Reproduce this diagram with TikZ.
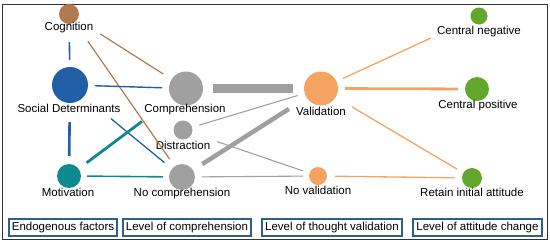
\documentclass[tikz,border=0pt]{standalone}
\usepackage{fontspec}
\setmainfont{Liberation Sans}
\begin{document}
\begin{tikzpicture}[x=1pt,y=-1pt,
  dot/.style={circle,inner sep=0pt,minimum size=#1,draw=none},
  lab/.style={inner sep=0pt,font=\fontsize{11.5}{12}\selectfont},
  catbox/.style={draw=boxblue,line width=1.1pt,inner sep=0pt,font=\fontsize{11.5}{12}\selectfont,minimum height=17pt},
  ln/.style={line cap=butt}]
\definecolor{cbrown}{RGB}{176,122,82}
\definecolor{cblue}{RGB}{33,96,168}
\definecolor{cteal}{RGB}{14,138,143}
\definecolor{cgray}{RGB}{160,160,160}
\definecolor{corange}{RGB}{244,164,96}
\definecolor{cgreen}{RGB}{98,166,44}
\definecolor{boxblue}{RGB}{46,95,138}
\useasboundingbox (0,0) rectangle (550,244);
\draw[line width=0.9pt,black!80] (2,4) rectangle (547,239);
% circles
\node[dot=20pt,fill=cbrown] (cog) at (69,14) {};
\node[dot=36pt,fill=cblue] (soc) at (70,85) {};
\node[dot=24pt,fill=cteal] (mot) at (69,176) {};
\node[dot=34pt,fill=cgray] (com) at (186,88.5) {};
\node[dot=19pt,fill=cgray] (dis) at (183,130) {};
\node[dot=26pt,fill=cgray] (noc) at (182,177) {};
\node[dot=34pt,fill=corange] (val) at (321,88.5) {};
\node[dot=18pt,fill=corange] (nov) at (318,176) {};
\node[dot=17pt,fill=cgreen] (cn) at (479,16) {};
\node[dot=24pt,fill=cgreen] (cp) at (477,89) {};
\node[dot=20pt,fill=cgreen] (ret) at (472,178) {};
% labels
\node[lab] (lcog) at (69,28) {Cognition};
\node[lab] (lsoc) at (69,108) {Social Determinants};
\node[lab] (lmot) at (68,192) {Motivation};
\node[lab] (lcom) at (185,110) {Comprehension};
\node[lab] (ldis) at (183,145) {Distraction};
\node[lab] (lnoc) at (182,194) {No comprehension};
\node[lab] (lval) at (321,111) {Validation};
\node[lab] (lnov) at (318,190) {No validation};
\node[lab] (lcn) at (479,32) {Central negative};
\node[lab] (lcp) at (478,106) {Central positive};
\node[lab] (lret) at (472,192) {Retain initial attitude};
% edges
\draw[ln,cbrown,line width=1.2pt,shorten <=37pt,shorten >=27pt] (cog.center) -- (com.center);
\draw[ln,cbrown,line width=1.2pt,shorten <=33pt,shorten >=21.6pt] (cog.center) -- (noc.center);
\draw[ln,cblue,line width=1.6pt,shorten <=28pt,shorten >=25pt] (cog.center) -- (soc.center);
\draw[ln,cblue,line width=1.4pt,shorten <=25pt,shorten >=24pt] (soc.center) -- (com.center);
\draw[ln,cblue,line width=1.3pt,shorten <=53pt,shorten >=22.7pt] (soc.center) -- (noc.center);
\draw[ln,cblue,line width=2.6pt,shorten <=37pt,shorten >=20pt] (soc.center) -- (mot.center);
\draw[ln,cteal,line width=2.8pt,shorten <=22pt,shorten >=55pt] (mot.center) -- (com.center);
\draw[ln,cteal,line width=1.6pt,shorten <=18pt,shorten >=19pt] (mot.center) -- (noc.center);
\draw[ln,cgray,line width=9pt,shorten <=27pt,shorten >=28pt] (com.center) -- (val.center);
\draw[ln,cgray,line width=1.1pt,shorten <=17pt,shorten >=24.4pt] (dis.center) -- (val.center);
\draw[ln,cgray,line width=1.1pt,shorten <=36pt,shorten >=15.5pt] (dis.center) -- (nov.center);
\draw[ln,cgray,line width=4.5pt,shorten <=24pt,shorten >=38pt] (noc.center) -- (val.center);
\draw[ln,cgray,line width=1.1pt,shorten <=20pt,shorten >=15pt] (noc.center) -- (nov.center);
\draw[ln,corange,line width=1.3pt,shorten <=24pt,shorten >=53pt] (val.center) -- (cn.center);
\draw[ln,corange,line width=2.8pt,shorten <=24pt,shorten >=19pt] (val.center) -- (cp.center);
\draw[ln,corange,line width=1.3pt,shorten <=36pt,shorten >=17.5pt] (val.center) -- (ret.center);
\draw[ln,corange,line width=1.3pt,shorten <=17pt,shorten >=17pt] (nov.center) -- (ret.center);
% category boxes
\node[catbox,minimum width=108pt] (b1) at (63,227.5) {Endogenous factors};
\node[catbox,minimum width=128pt] (b2) at (187,227.5) {Level of comprehension};
\node[catbox,minimum width=140pt] (b3) at (332,227.5) {Level of thought validation};
\node[catbox,minimum width=129pt] (b4) at (477.5,227.5) {Level of attitude change};
\end{tikzpicture}
\end{document}
